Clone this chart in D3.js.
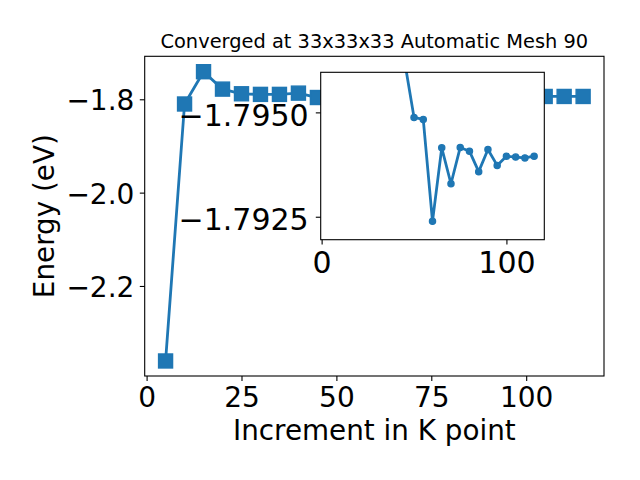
<!DOCTYPE html>
<html>
<head>
<meta charset="utf-8">
<script src="https://cdn.jsdelivr.net/npm/d3@7"></script>
<style>
  html, body { margin: 0; padding: 0; background: #fff; }
  svg { display: block; font-family: "DejaVu Sans", sans-serif; }
</style>
</head>
<body>
<svg id="chart" width="640" height="480"></svg>
<script>
// ---- data ----
const kpoints = [5, 10, 15, 20, 25, 30, 35, 40, 45, 50, 55, 60, 65, 70, 75, 80, 85, 90, 95, 100, 105, 110, 115];
const energy = [-2.3607, -1.8101, -1.7409, -1.7782, -1.7882, -1.7895, -1.7895, -1.7868, -1.7962,
  -1.79488, -1.79483, -1.79239, -1.79415, -1.79329, -1.79416, -1.79407, -1.79358, -1.79411,
  -1.79373, -1.79395, -1.79393, -1.79391, -1.79395];
// the inset zooms on the converged tail, starting at K = 45
const insetStartK = 45;
const mainXTicks = [0, 25, 50, 75, 100];
const mainYTicks = [-2.2, -2.0, -1.8];
const insetXTicks = [0, 100];
const insetYTicks = [-1.7950, -1.7925];
const titleText = "Converged at 33x33x33 Automatic Mesh 90";
const xLabel = "Increment in K point";
const yLabel = "Energy (eV)";

const FONT = "DejaVu Sans";
const color = "#1f77b4";
const svg = d3.select("#chart");
const pts = kpoints.map((k, i) => ({ x: k, y: energy[i] }));
const insetPts = pts.filter(d => d.x >= insetStartK);

// ---- main axes ----
const M = { left: 144.7, right: 604, top: 56.3, bottom: 376 };
const x = d3.scaleLinear().domain([-0.5, 120.5]).range([M.left, M.right]);
const y = d3.scaleLinear().domain([-2.3929, -1.7079]).range([M.bottom, M.top]);

const line = d3.line().x(d => x(d.x)).y(d => y(d.y));
svg.append("path").datum(pts)
  .attr("d", line).attr("fill", "none").attr("stroke", color).attr("stroke-width", 2.8)
  .attr("stroke-linejoin", "round");
const sq = 14;
svg.append("g").selectAll("rect").data(pts).join("rect")
  .attr("x", d => x(d.x) - sq / 2).attr("y", d => y(d.y) - sq / 2)
  .attr("width", sq).attr("height", sq)
  .attr("fill", color).attr("stroke", color).attr("stroke-width", 1.4);

svg.append("rect").attr("x", M.left).attr("y", M.top)
  .attr("width", M.right - M.left).attr("height", M.bottom - M.top)
  .attr("fill", "none").attr("stroke", "#000").attr("stroke-width", 1.1);

function styleAxis(g, fs) {
  g.attr("font-family", FONT).attr("font-size", fs);
  g.select(".domain").remove();
  g.selectAll("line").attr("stroke-width", 1.1).attr("stroke", "#000");
  g.selectAll("text").attr("fill", "#000").attr("dy", 0);
}

const gx = svg.append("g").attr("transform", `translate(0,${M.bottom})`)
  .call(d3.axisBottom(x).tickValues(mainXTicks).tickSize(4.9).tickFormat(d3.format("d")));
styleAxis(gx, 28);
gx.selectAll("text").attr("y", 31.3);

const gy = svg.append("g").attr("transform", `translate(${M.left},0)`)
  .call(d3.axisLeft(y).tickValues(mainYTicks).tickSize(4.9).tickFormat(d3.format(".1f")));
styleAxis(gy, 28);
gy.selectAll("text").attr("x", -10.3).attr("y", 10.6);

svg.append("text").attr("x", (M.left + M.right) / 2).attr("y", 47.5)
  .attr("text-anchor", "middle").attr("font-size", 19.4).text(titleText);
svg.append("text").attr("x", (M.left + M.right) / 2).attr("y", 440)
  .attr("text-anchor", "middle").attr("font-size", 27.8).text(xLabel);
svg.append("text").attr("transform", `translate(53.5,${(M.top + M.bottom) / 2}) rotate(-90)`)
  .attr("text-anchor", "middle").attr("font-size", 27.8).text(yLabel);

// ---- inset axes ----
const I = { left: 320.7, right: 544.3, top: 72.3, bottom: 239.7 };
const xi = d3.scaleLinear().domain([-0.5, 120.5]).range([I.left, I.right]);
const yi = d3.scaleLinear().domain([-1.79596, -1.79195]).range([I.top, I.bottom]);

svg.append("rect").attr("x", I.left).attr("y", I.top)
  .attr("width", I.right - I.left).attr("height", I.bottom - I.top)
  .attr("fill", "#fff");

svg.append("defs").append("clipPath").attr("id", "insetClip")
  .append("rect").attr("x", I.left).attr("y", I.top)
  .attr("width", I.right - I.left).attr("height", I.bottom - I.top);

const gi = svg.append("g").attr("clip-path", "url(#insetClip)");
const linei = d3.line().x(d => xi(d.x)).y(d => yi(d.y));
gi.append("path").datum(insetPts).attr("d", linei)
  .attr("fill", "none").attr("stroke", color).attr("stroke-width", 2.8).attr("stroke-linejoin", "round");
gi.selectAll("circle").data(insetPts).join("circle")
  .attr("cx", d => xi(d.x)).attr("cy", d => yi(d.y)).attr("r", 3.1)
  .attr("fill", color).attr("stroke", color).attr("stroke-width", 1.3);

svg.append("rect").attr("x", I.left).attr("y", I.top)
  .attr("width", I.right - I.left).attr("height", I.bottom - I.top)
  .attr("fill", "none").attr("stroke", "#000").attr("stroke-width", 1.1);

const gxi = svg.append("g").attr("transform", `translate(0,${I.bottom})`)
  .call(d3.axisBottom(xi).tickValues(insetXTicks).tickSize(4.9).tickFormat(d3.format("d")));
styleAxis(gxi, 30);
gxi.selectAll("text").attr("y", 33.6);

const gyi = svg.append("g").attr("transform", `translate(${I.left},0)`)
  .call(d3.axisLeft(yi).tickValues(insetYTicks).tickSize(4.9).tickFormat(d3.format(".4f")));
styleAxis(gyi, 30);
gyi.selectAll("text").attr("x", -12).attr("y", 12.7);
</script>
</body>
</html>
